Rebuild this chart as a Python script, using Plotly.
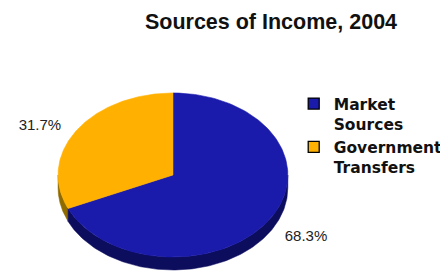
import math
import plotly.graph_objects as go

categories = ["Market<br>Sources", "Government<br>Transfers"]
values = [68.3, 31.7]
colors = ["#1a1aab", "#ffb000"]
side_colors = ["#0d0d5e", "#8f6a00"]

# page is rendered with an 8px body margin: map page pixels onto axes
OFF = 8
W, H = 448, 271
cx, cy = 176, 175
rx, ry = 117, 82
depth = 13

total = sum(values)
# Government counter-clockwise from 12 o'clock, Market the rest
gov_end = 90 + values[1] / total * 360
spans_by_idx = {1: (90.0, gov_end), 0: (gov_end, 450.0)}


def pt(a, dy=0.0):
    r = math.radians(a)
    return cx + rx * math.cos(r), cy - ry * math.sin(r) + dy


def arc(a0, a1, n=160, dy=0.0):
    xs, ys = [], []
    for k in range(n + 1):
        a = a0 + (a1 - a0) * k / n
        x, y = pt(a, dy)
        xs.append(x)
        ys.append(y)
    return xs, ys


fig = go.Figure()

# visible sides (front half: angles 180..360)
for i in (1, 0):
    a0, a1 = spans_by_idx[i]
    for off in (0, 360):
        lo = max(a0, 180 + off)
        hi = min(a1, 360 + off)
        if hi > lo:
            tx, ty = arc(lo, hi)
            bx, by = arc(hi, lo, dy=depth)
            fig.add_trace(go.Scatter(x=tx + bx + [tx[0]], y=ty + by + [ty[0]], mode="lines",
                                     fill="toself", fillcolor=side_colors[i],
                                     line=dict(width=0.5, color=side_colors[i]),
                                     showlegend=False, hoverinfo="skip"))

# top faces
for i in (0, 1):
    a0, a1 = spans_by_idx[i]
    xs, ys = arc(a0, a1)
    fig.add_trace(go.Scatter(x=[cx] + xs + [cx], y=[cy] + ys + [cy], mode="lines",
                             fill="toself", fillcolor=colors[i],
                             line=dict(width=0.6, color=colors[i]),
                             showlegend=False, hoverinfo="text",
                             text=f"{categories[i].replace('<br>', ' ')}: {values[i]}%"))

# percentage labels
for i in (0, 1):
    a0, a1 = spans_by_idx[i]
    mid = (a0 + a1) / 2
    r = math.radians(mid)
    lx = cx + 1.38 * rx * math.cos(r)
    ly = cy - 1.1 * ry * math.sin(r) + (depth if math.sin(r) < 0 else 0)
    fig.add_trace(go.Scatter(x=[lx], y=[ly], mode="text", text=[f"{values[i]:.1f}%"],
                             textposition="middle center",
                             textfont=dict(family="Liberation Sans, Arial", size=15, color="#222222"),
                             showlegend=False, hoverinfo="skip"))

# legend entries
for i in (0, 1):
    fig.add_trace(go.Scatter(x=[None], y=[None], mode="markers", name=f"<b>{categories[i]}</b>",
                             marker=dict(symbol="square", size=11, color=colors[i],
                                         line=dict(color="#000000", width=1.3))))

PW, PH = W - OFF, H - OFF
fig.update_layout(
    width=PW, height=PH,
    margin=dict(l=0, r=0, t=0, b=0),
    paper_bgcolor="white", plot_bgcolor="white",
    xaxis=dict(range=[OFF, W], visible=False, fixedrange=True),
    yaxis=dict(range=[H, OFF], visible=False, fixedrange=True),
    title=dict(text="<b>Sources of Income, 2004</b>", x=(271 - OFF) / PW, xanchor="center",
               y=1 - (21 - OFF) / PH, yanchor="middle",
               font=dict(family="Liberation Sans, Arial", size=21.5, color="#111111")),
    legend=dict(x=(299 - OFF) / PW, y=1 - (87 - OFF) / PH, xanchor="left", yanchor="top",
                valign="top", bgcolor="rgba(0,0,0,0)",
                font=dict(family="DejaVu Sans", size=15.5, color="#111111"),
                itemwidth=30),
    showlegend=True,
)

fig.write_html("out.html")
